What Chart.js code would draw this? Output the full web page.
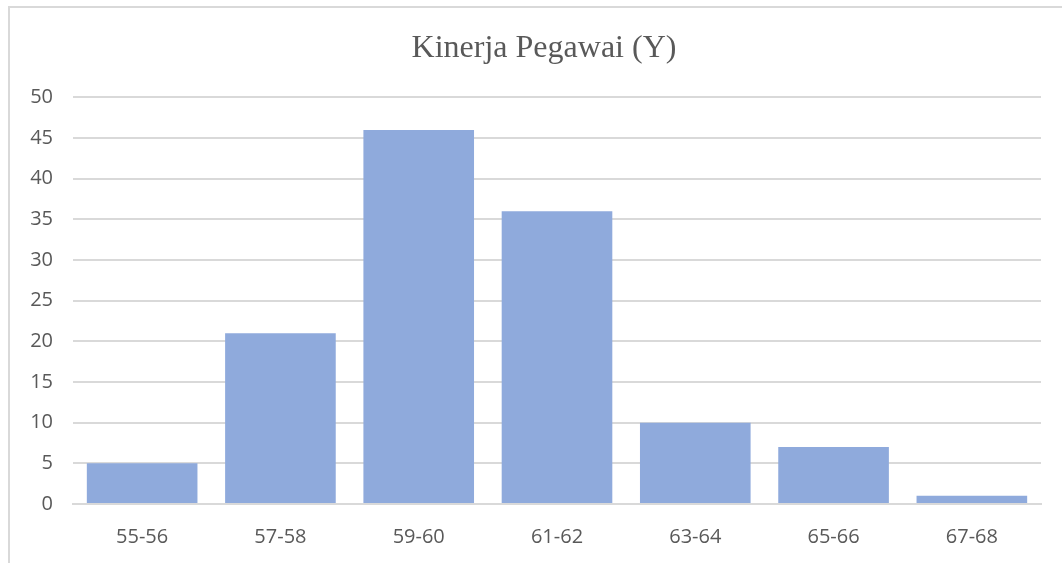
<!DOCTYPE html>
<html>
<head>
<meta charset="utf-8">
<script src="https://cdn.jsdelivr.net/npm/chart.js@4/dist/chart.umd.min.js"></script>
<style>
  html, body { margin: 0; padding: 0; background: #fff; }
  #wrap { width: 1062px; height: 563px; position: relative; }
</style>
</head>
<body>
<div id="wrap"><canvas id="chart"></canvas></div>
<script>
// Kinerja Pegawai (Y) — frequency per score range
const categories = ['55-56', '57-58', '59-60', '61-62', '63-64', '65-66', '67-68'];
const counts = [5, 21, 46, 36, 10, 7, 1];
const yTicks = { min: 0, max: 50, step: 5 };

const textColor = '#595959';
const gridColor = '#d9d9d9';

// light frame on the left and top edge, like the cropped Excel chart box;
// also nudges the title block so it sits centred on the full picture
const frame = {
  id: 'frame',
  afterLayout(chart) {
    const t = chart.titleBlock;
    if (t) {
      t.left = 26;
      t.right = chart.width;
    }
  },
  beforeDraw(chart) {
    const ctx = chart.ctx;
    ctx.save();
    ctx.strokeStyle = '#d9d9d9';
    ctx.lineWidth = 2;
    ctx.beginPath();
    ctx.moveTo(9, chart.height);
    ctx.lineTo(9, 7);
    ctx.lineTo(chart.width, 7);
    ctx.stroke();
    ctx.restore();
  },
};

new Chart(document.getElementById('chart'), {
  type: 'bar',
  data: {
    labels: categories,
    datasets: [{
      label: 'Kinerja Pegawai (Y)',
      data: counts,
      backgroundColor: '#8faadc',
      borderWidth: 0,
      barPercentage: 0.8,
      categoryPercentage: 1,
    }],
  },
  options: {
    responsive: true,
    maintainAspectRatio: false,
    animation: false,
    layout: { padding: { left: 0, right: 21, top: 0, bottom: 0 } },
    plugins: {
      legend: { display: false },
      tooltip: { enabled: false },
      title: {
        display: true,
        text: 'Kinerja Pegawai (Y)',
        color: textColor,
        font: { family: '"Liberation Serif", "Times New Roman", serif', size: 32, weight: 'normal' },
        padding: { top: 29, bottom: 30 },
      },
    },
    scales: {
      x: {
        grid: { display: false, drawTicks: false },
        border: { display: true, color: gridColor, width: 2 },
        ticks: {
          color: textColor,
          font: { family: '"Open Sans", "Liberation Sans", sans-serif', size: 20 },
          padding: 21,
        },
        afterFit(scale) { scale.height = 59; },
      },
      y: {
        min: yTicks.min,
        max: yTicks.max,
        grid: { color: gridColor, lineWidth: 2, drawTicks: false },
        border: { display: false },
        ticks: {
          stepSize: yTicks.step,
          color: textColor,
          font: { family: '"Open Sans", "Liberation Sans", sans-serif', size: 20 },
          padding: 20,
        },
        afterFit(scale) { scale.width = 73; },
      },
    },
  },
  plugins: [frame],
});
</script>
</body>
</html>
